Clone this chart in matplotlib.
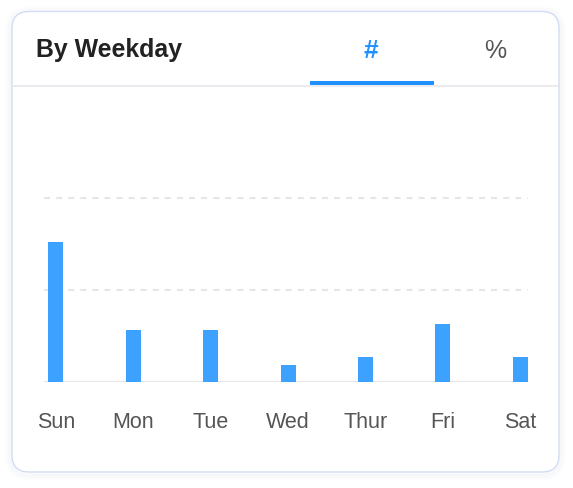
import matplotlib
matplotlib.use("Agg")
import matplotlib.pyplot as plt
from matplotlib.patches import FancyBboxPatch, Rectangle

# ---- data ----
days = ["Sun", "Mon", "Tue", "Wed", "Thur", "Fri", "Sat"]
counts = [7.6, 2.81, 2.81, 0.89, 1.34, 3.14, 1.34]
grid_values = [5, 10]
title = "By Weekday"
tabs = ["#", "%"]

W, H = 573, 488
fig = plt.figure(figsize=(W / 100, H / 100), dpi=100)
fig.patch.set_facecolor("white")

# background axes in pixel coordinates
bg = fig.add_axes([0, 0, 1, 1])
bg.set_xlim(0, W)
bg.set_ylim(H, 0)
bg.axis("off")

card_x0, card_y0, card_x1, card_y1 = 12, 11.5, 559, 472
# faint shadow
for i, a in enumerate([0.035, 0.025, 0.015]):
    d = 1.5 + i * 2
    bg.add_patch(FancyBboxPatch((card_x0 - d + 0.5, card_y0 - d + 2), card_x1 - card_x0 + 2 * d - 1,
                                card_y1 - card_y0 + 2 * d - 1,
                                boxstyle="round,pad=0,rounding_size=%g" % (17 + d),
                                facecolor="none", edgecolor=(0.3, 0.35, 0.5, a), linewidth=2, zorder=0))
bg.add_patch(FancyBboxPatch((card_x0, card_y0), card_x1 - card_x0, card_y1 - card_y0,
                            boxstyle="round,pad=0,rounding_size=17",
                            facecolor="white", edgecolor="#d3dcf3", linewidth=1.0, zorder=1))

font = "Liberation Sans"
bg.text(36.5, 57.5, title, fontsize=17.9, fontweight="bold", color="#222222",
        family=font, va="baseline", ha="left", zorder=3)
bg.text(371, 57.5, tabs[0], fontsize=19, fontweight="bold", color="#1E90FF",
        family=font, va="baseline", ha="center", zorder=3)
bg.text(495, 57.5, tabs[1], fontsize=18, color="#555555",
        family=font, va="baseline", ha="center", zorder=3)
# separator and active underline
bg.plot([card_x0, card_x1], [85.5, 85.5], color="#e8e8ec", lw=1.2, zorder=2, solid_capstyle="butt")
bg.add_patch(Rectangle((309.5, 81), 124, 4, facecolor="#1E90FF", edgecolor="none", zorder=3))

# chart axes
left, right, top, bottom = 44, 528, 150, 381.7
ax = fig.add_axes([left / W, 1 - bottom / H, (right - left) / W, (bottom - top) / H])
ax.patch.set_alpha(0)
x = list(range(len(days)))
ax.bar(x, counts, width=0.194, color="#3DA1FF", zorder=3)
ax.set_xlim(-0.152, 6.1)
ax.set_ylim(0, (bottom - top) / ((bottom - 198) / 10))
ax.set_yticks(grid_values)
ax.yaxis.grid(True, linestyle=(0, (2.9, 2.9)), color="#e6e6e6", linewidth=1.5)
ax.set_axisbelow(True)
ax.axhline(0, color="#e6e6e6", lw=1.6, zorder=2)
for s in ax.spines.values():
    s.set_visible(False)
ax.tick_params(axis="y", left=False, labelleft=False)
ax.set_xticks(x)
ax.set_xticklabels(days, fontsize=15.5, color="#555555", family=font)
ax.tick_params(axis="x", length=0, pad=33.6)
for lbl in ax.get_xticklabels():
    lbl.set_va("baseline")

fig.savefig("out.png", dpi=100, facecolor="white")
